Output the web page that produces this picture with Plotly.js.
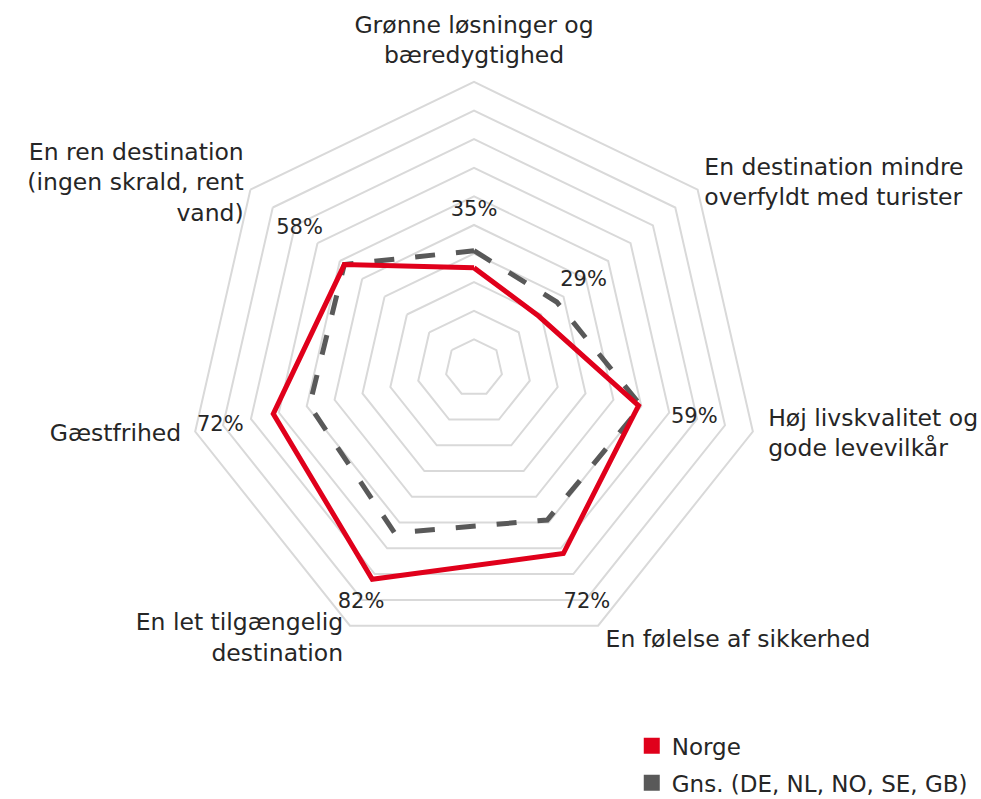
<!DOCTYPE html>
<html>
<head>
<meta charset="utf-8">
<script src="https://cdn.plot.ly/plotly-3.0.1.min.js"></script>
<style>html,body{margin:0;padding:0;background:#fff;}#chart{width:981px;height:799px;}</style>
</head>
<body>
<div id="chart"></div>
<script>
const categories = [
  "Grønne løsninger og<br>bæredygtighed",
  "En destination mindre<br>overfyldt med turister",
  "Høj livskvalitet og<br>gode levevilkår",
  "En følelse af sikkerhed",
  "En let tilgængelig<br>destination",
  "Gæstfrihed",
  "En ren destination<br>(ingen skrald, rent<br>vand)"
];
const norge = [35, 29, 59, 72, 82, 72, 58];
const gns = [41, 37, 60, 59, 64, 59, 58];
const gridVals = [10, 20, 30, 40, 50, 60, 70, 80, 90, 100];
const seriesNames = ["Norge", "Gns. (DE, NL, NO, SE, GB)"];
const colors = ["#E0001B", "#595959"];

const close = a => a.concat([a[0]]);
const labelR = norge.map(v => Math.min(v + 20, 91));
const catLabelR = [104.5, 103, 105.5, 106, 105.5, 105, 103];
const catPos = ["top center", "middle right", "middle right", "middle right",
                "middle left", "middle left", "middle left"];
const font = "DejaVu Sans, sans-serif";

const traces = [
  {
    type: "scatterpolar", mode: "lines", r: close(gns), theta: close(categories),
    line: {color: colors[1], width: 5, dash: "20px,21px"}, showlegend: false, hoverinfo: "skip"
  },
  {
    type: "scatterpolar", mode: "lines", r: close(norge), theta: close(categories),
    line: {color: colors[0], width: 5}, showlegend: false, hoverinfo: "skip"
  },
  {
    type: "scatterpolar", mode: "text", r: labelR, theta: categories,
    text: norge.map(v => v + "%"), textfont: {family: font, size: 21, color: "#262626"},
    showlegend: false, hoverinfo: "skip", cliponaxis: false
  },
  {
    type: "scatterpolar", mode: "text", r: catLabelR, theta: categories,
    text: categories, textposition: catPos,
    textfont: {family: font, size: 23.5, color: "#262626"},
    showlegend: false, hoverinfo: "skip", cliponaxis: false
  },
  {
    type: "scatterpolar", mode: "markers", r: [null], theta: [categories[0]], name: seriesNames[0],
    legendgroup: "a", marker: {symbol: "square", size: 16, color: colors[0]}, showlegend: true, hoverinfo: "skip"
  },
  {
    type: "scatterpolar", mode: "markers", r: [null], theta: [categories[0]], name: seriesNames[1],
    legendgroup: "b", marker: {symbol: "square", size: 16, color: colors[1]}, showlegend: true, hoverinfo: "skip"
  }
];

const layout = {
  width: 981, height: 799,
  margin: {l: 0, r: 0, t: 0, b: 0, autoexpand: false},
  paper_bgcolor: "#fff",
  font: {family: font, color: "#262626"},
  showlegend: true,
  legend: {x: 0.644, y: 0.0935, xanchor: "left", yanchor: "top", itemwidth: 30,
    tracegroupgap: 4,
    font: {family: font, size: 23, color: "#262626"}, bgcolor: "rgba(0,0,0,0)"},
  polar: {
    domain: {x: [0.1625, 0.8039], y: [0.1457, 0.9332]},
    gridshape: "linear",
    bgcolor: "rgba(0,0,0,0)",
    radialaxis: {range: [0, 110], tickvals: gridVals, showticklabels: false, ticks: "",
      showline: false, gridcolor: "#d9d9d9", gridwidth: 1.5},
    angularaxis: {rotation: 90, direction: "clockwise", showgrid: false,
      showline: false, ticks: "", showticklabels: false}
  }
};

Plotly.newPlot("chart", traces, layout, {displayModeBar: false});
</script>
</body>
</html>
